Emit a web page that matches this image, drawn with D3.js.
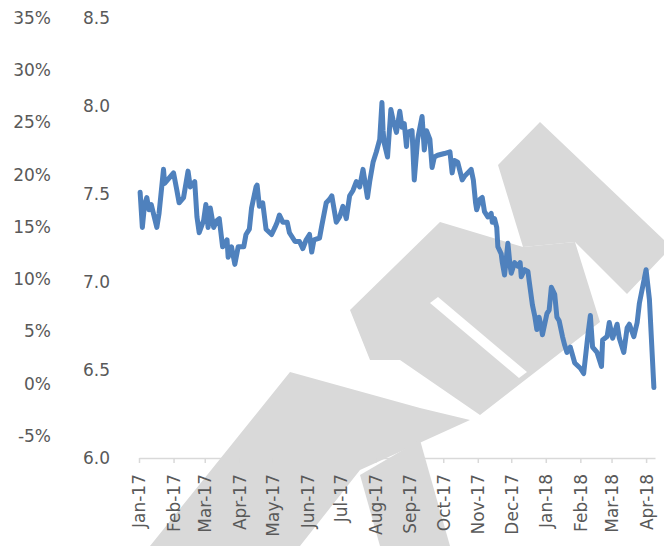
<!DOCTYPE html>
<html>
<head>
    <meta charset="UTF-8">
    <title>Yield chart</title>
    <script src="https://d3js.org/d3.v7.min.js"></script>
    <style>
        *{
            padding:0;
            margin:0;
        }
        body{
            background:#fff;
        }
        .tick text{
            font-family: "DejaVu Sans", sans-serif;
            font-size: 17px;
            fill: #595959;
        }
    </style>
</head>
<body>
    <svg id='main' width="664" height="546"></svg>
    <script>
// series: date, value (right-hand axis)
const dates = ["2017-01-02","2017-01-04","2017-01-06","2017-01-08","2017-01-10","2017-01-12","2017-01-17","2017-01-19","2017-01-23","2017-01-24",
    "2017-01-28","2017-02-01","2017-02-04","2017-02-06","2017-02-10","2017-02-14","2017-02-16","2017-02-20","2017-02-22","2017-02-24",
    "2017-02-28","2017-03-02","2017-03-04","2017-03-06","2017-03-09","2017-03-12","2017-03-14","2017-03-17","2017-03-21","2017-03-22",
    "2017-03-25","2017-03-28","2017-03-31","2017-04-05","2017-04-07","2017-04-10","2017-04-12","2017-04-16","2017-04-17","2017-04-19",
    "2017-04-22","2017-04-25","2017-04-30","2017-05-03","2017-05-05","2017-05-07","2017-05-10","2017-05-14","2017-05-16","2017-05-21",
    "2017-05-25","2017-05-28","2017-05-31","2017-06-03","2017-06-05","2017-06-07","2017-06-12","2017-06-14","2017-06-18","2017-06-21",
    "2017-06-23","2017-06-27","2017-06-30","2017-07-03","2017-07-06","2017-07-09","2017-07-12","2017-07-15","2017-07-18","2017-07-21",
    "2017-07-25","2017-07-27","2017-07-30","2017-08-02","2017-08-05","2017-08-07","2017-08-08","2017-08-09","2017-08-12","2017-08-15",
    "2017-08-17","2017-08-20","2017-08-23","2017-08-25","2017-08-27","2017-08-29","2017-08-30","2017-09-03","2017-09-05","2017-09-08",
    "2017-09-12","2017-09-14","2017-09-16","2017-09-19","2017-09-21","2017-09-23","2017-09-26","2017-10-02","2017-10-07","2017-10-09",
    "2017-10-11","2017-10-14","2017-10-18","2017-10-20","2017-10-23","2017-10-26","2017-10-28","2017-10-30","2017-10-31","2017-11-03",
    "2017-11-05","2017-11-07","2017-11-10","2017-11-13","2017-11-14","2017-11-16","2017-11-18","2017-11-19","2017-11-22","2017-11-23",
    "2017-11-25","2017-11-28","2017-11-30","2017-12-01","2017-12-04","2017-12-07","2017-12-09","2017-12-10","2017-12-13","2017-12-16",
    "2017-12-17","2017-12-20","2017-12-22","2017-12-24","2017-12-26","2017-12-28","2017-12-29","2018-01-02","2018-01-04","2018-01-06",
    "2018-01-09","2018-01-11","2018-01-13","2018-01-16","2018-01-18","2018-01-20","2018-01-23","2018-01-27","2018-02-01","2018-02-04",
    "2018-02-08","2018-02-10","2018-02-12","2018-02-16","2018-02-20","2018-02-21","2018-02-25","2018-02-27","2018-03-02","2018-03-06",
    "2018-03-08","2018-03-12","2018-03-15","2018-03-17","2018-03-21","2018-03-24","2018-03-26","2018-04-01","2018-04-04","2018-04-08"];
const values = [7.51,7.31,7.44,7.48,7.41,7.44,7.31,7.39,7.64,7.56,
    7.59,7.62,7.52,7.45,7.48,7.63,7.54,7.57,7.37,7.28,
    7.35,7.44,7.31,7.42,7.31,7.35,7.36,7.20,7.24,7.14,
    7.20,7.10,7.20,7.20,7.27,7.30,7.42,7.54,7.55,7.43,
    7.45,7.30,7.27,7.31,7.34,7.38,7.34,7.34,7.28,7.23,
    7.23,7.19,7.24,7.27,7.17,7.24,7.25,7.32,7.45,7.47,
    7.49,7.34,7.37,7.43,7.36,7.49,7.52,7.57,7.54,7.64,
    7.48,7.57,7.68,7.74,7.81,8.02,7.86,7.79,7.71,7.98,
    7.92,7.85,7.97,7.88,7.90,7.77,7.85,7.86,7.58,7.81,
    7.94,7.75,7.86,7.81,7.65,7.71,7.72,7.73,7.74,7.62,
    7.69,7.68,7.58,7.60,7.62,7.64,7.58,7.45,7.41,7.47,
    7.48,7.40,7.37,7.39,7.34,7.36,7.31,7.20,7.16,7.11,
    7.04,7.22,7.09,7.05,7.11,7.09,7.11,7.03,7.07,7.06,
    7.01,6.87,6.81,6.73,6.80,6.74,6.70,6.82,6.84,6.97,
    6.93,6.80,6.78,6.69,6.64,6.60,6.63,6.54,6.51,6.48,
    6.71,6.81,6.63,6.60,6.52,6.67,6.69,6.77,6.68,6.76,
    6.68,6.60,6.74,6.76,6.69,6.77,6.88,7.07,6.90,6.40];

// axis ticks
const rightTicks = [6.0, 6.5, 7.0, 7.5, 8.0, 8.5];
const leftTicks = [-5, 0, 5, 10, 15, 20, 25, 30, 35];
const monthTicks = ["2017-01-01","2017-02-01","2017-03-01","2017-04-01","2017-05-01","2017-06-01","2017-07-01","2017-08-01",
    "2017-09-01","2017-10-01","2017-11-01","2017-12-01","2018-01-01","2018-02-01","2018-03-01","2018-04-01"];

const svg = d3.select("svg");
const parse = d3.timeParse("%Y-%m-%d");
const data = dates.map((d, i) => ({ date: parse(d), value: values[i] }));

const x = d3.scaleTime()
    .domain([parse("2017-01-01"), parse("2018-04-09")])
    .range([139, 655]);
const y = d3.scaleLinear().domain([6, 8.5]).range([458, 18]);
const yPct = d3.scaleLinear().domain([-5, 35]).range([436, 18]);

// watermark logo, sits behind the chart
const wm = svg.append("g").attr("fill", "#d9d9d9");
const shapes = [
    [[498,165],[540,122],[664,240],[664,255],[627,294],[575,242],[523,247]],
    [[350,310],[440,222],[523,247],[575,242],[600,322],[480,415],[400,360],[370,360]],
    [[150,546],[290,372],[420,408],[470,420],[360,470],[300,546]],
    [[360,475],[420,440],[450,546],[380,546]]
];
wm.selectAll("path").data(shapes).enter().append("path")
    .attr("d", d => "M" + d.join("L") + "Z");
// white cut through the middle of the logo
svg.append("path")
    .attr("fill", "#fff")
    .attr("d", "M430,303L438,297L527,372L519,378Z");

// left percentage axis, labels only
svg.append("g")
    .attr("transform", "translate(51,0)")
    .call(d3.axisLeft(yPct).tickValues(leftTicks).tickFormat(d => d + "%").tickSize(0).tickPadding(0))
    .call(g => g.select(".domain").remove());

// right value axis labels
svg.append("g")
    .attr("transform", "translate(110,0)")
    .call(d3.axisLeft(y).tickValues(rightTicks).tickFormat(d3.format(".1f")).tickSize(0).tickPadding(0))
    .call(g => g.select(".domain").remove());

// x axis
const xAxis = svg.append("g")
    .attr("transform", "translate(0,458)")
    .call(d3.axisBottom(x).tickValues(monthTicks.map(parse)).tickFormat(d3.timeFormat("%b-%y")).tickSize(5).tickSizeOuter(0));
xAxis.select(".domain").attr("stroke", "#d9d9d9").attr("stroke-width", 1.5);
xAxis.selectAll(".tick line").attr("stroke", "#d9d9d9").attr("stroke-width", 1.5);
xAxis.selectAll(".tick text")
    .attr("transform", "rotate(-90)")
    .attr("text-anchor", "end")
    .attr("x", -16)
    .attr("y", 0)
    .attr("dy", "0.35em");

// the series
const line = d3.line().x(d => x(d.date)).y(d => y(d.value));
svg.append("path")
    .datum(data)
    .attr("fill", "none")
    .attr("stroke", "#4f81bd")
    .attr("stroke-width", 5)
    .attr("stroke-linejoin", "round")
    .attr("stroke-linecap", "round")
    .attr("d", line);
    </script>
</body>
</html>
